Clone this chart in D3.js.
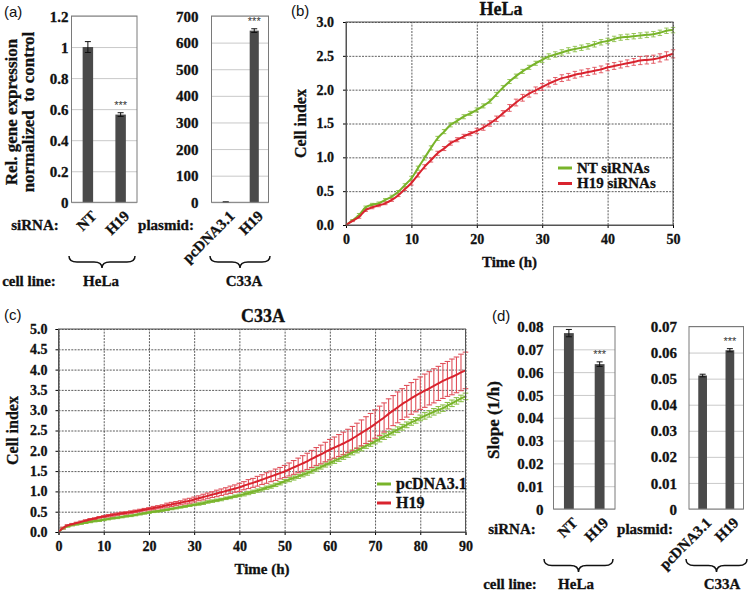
<!DOCTYPE html>
<html><head><meta charset="utf-8">
<script src="https://cdn.jsdelivr.net/npm/d3@7"></script>
<style>
body{margin:0;background:#fff}
svg{display:block}
</style></head><body>
<script>
// ---------------- DATA ----------------
// Panel (a)
const aLeftCats = ["NT", "H19"];
const aLeftVals = [1.0, 0.565];
const aLeftErrs = [0.035, 0.012];
const aLeftStars = ["", "***"];
const aLeftTicks = [0, 0.2, 0.4, 0.6, 0.8, 1, 1.2];
const aRightCats = ["pcDNA3.1", "H19"];
const aRightVals = [1, 645];
const aRightErrs = [0.5, 7];
const aRightStars = ["", "***"];
const aRightTicks = [0, 100, 200, 300, 400, 500, 600, 700];
// Panel (d)
const dLeftCats = ["NT", "H19"];
const dLeftVals = [0.0771, 0.0635];
const dLeftErrs = [0.0016, 0.0010];
const dLeftStars = ["", "***"];
const dLeftTicks = [0, 0.01, 0.02, 0.03, 0.04, 0.05, 0.06, 0.07, 0.08];
const dRightCats = ["pcDNA3.1", "H19"];
const dRightVals = [0.0512, 0.0609];
const dRightErrs = [0.0005, 0.0006];
const dRightStars = ["", "***"];
const dRightTicks = [0, 0.01, 0.02, 0.03, 0.04, 0.05, 0.06, 0.07];
// Panel (b) HeLa
const timeB = [0,1,2,3,4,5,6,7,8,9,10,11,12,13,14,15,16,17,18,19,20,21,22,23,24,25,26,27,28,29,30,31,32,33,34,35,36,37,38,39,40,41,42,43,44,45,46,47,48,49,50];
const ntB = [0.00,0.07,0.15,0.26,0.30,0.32,0.37,0.42,0.49,0.59,0.69,0.84,0.99,1.14,1.28,1.38,1.48,1.54,1.60,1.65,1.70,1.76,1.83,1.93,2.03,2.12,2.20,2.27,2.33,2.39,2.44,2.49,2.52,2.55,2.58,2.60,2.62,2.64,2.67,2.70,2.72,2.75,2.77,2.78,2.79,2.80,2.81,2.82,2.84,2.87,2.88];
const ntBErr = [0,0.01,0.02,0.02,0.02,0.02,0.02,0.02,0.02,0.02,0.03,0.03,0.03,0.03,0.03,0.03,0.03,0.03,0.03,0.03,0.03,0.03,0.03,0.03,0.03,0.03,0.03,0.03,0.03,0.03,0.04,0.04,0.04,0.04,0.04,0.04,0.04,0.04,0.04,0.04,0.04,0.04,0.04,0.04,0.04,0.04,0.04,0.04,0.04,0.04,0.04];
const h19B = [0.00,0.06,0.12,0.22,0.26,0.29,0.32,0.37,0.44,0.53,0.62,0.74,0.86,0.96,1.06,1.13,1.21,1.26,1.31,1.35,1.39,1.44,1.50,1.57,1.65,1.73,1.81,1.88,1.94,1.99,2.04,2.09,2.13,2.17,2.19,2.22,2.24,2.26,2.28,2.30,2.33,2.35,2.37,2.39,2.41,2.43,2.44,2.45,2.47,2.50,2.53];
const h19BErr = [0,0.01,0.02,0.02,0.02,0.02,0.02,0.02,0.02,0.02,0.03,0.03,0.03,0.03,0.03,0.03,0.03,0.03,0.03,0.03,0.04,0.04,0.04,0.04,0.04,0.05,0.05,0.05,0.05,0.05,0.05,0.05,0.05,0.05,0.05,0.05,0.05,0.05,0.05,0.05,0.05,0.05,0.05,0.05,0.05,0.06,0.06,0.06,0.06,0.06,0.06];
const seriesBNames = ["NT siRNAs", "H19 siRNAs"];
const xTicksB = [0,10,20,30,40,50];
const yTicksB = [0,0.5,1.0,1.5,2.0,2.5,3.0];
// Panel (c) C33A
const timeC = [0,1,2,3,4,5,6,7,8,9,10,11,12,13,14,15,16,17,18,19,20,21,22,23,24,25,26,27,28,29,30,31,32,33,34,35,36,37,38,39,40,41,42,43,44,45,46,47,48,49,50,51,52,53,54,55,56,57,58,59,60,61,62,63,64,65,66,67,68,69,70,71,72,73,74,75,76,77,78,79,80,81,82,83,84,85,86,87,88,89,90];
const pcC = [0,0.09,0.14,0.17,0.19,0.21,0.23,0.25,0.27,0.28,0.30,
  0.32,0.34,0.35,0.37,0.39,0.40,0.42,0.44,0.46,0.48,
  0.50,0.51,0.53,0.55,0.57,0.59,0.61,0.63,0.65,0.67,
  0.69,0.71,0.74,0.76,0.78,0.80,0.83,0.85,0.88,0.90,
  0.93,0.96,0.99,1.02,1.05,1.09,1.12,1.16,1.20,1.25,
  1.29,1.33,1.37,1.41,1.45,1.50,1.55,1.60,1.65,1.70,
  1.75,1.80,1.85,1.90,1.96,2.01,2.06,2.12,2.17,2.23,
  2.29,2.35,2.40,2.46,2.52,2.58,2.64,2.70,2.75,2.81,
  2.86,2.91,2.96,3.01,3.05,3.11,3.17,3.23,3.29,3.34];
const pcCErr = [0,0.02,0.02,0.02,0.02,0.02,0.02,0.02,0.02,0.02,0.02,
  0.02,0.02,0.02,0.02,0.02,0.02,0.02,0.02,0.02,0.02,
  0.02,0.02,0.02,0.02,0.02,0.02,0.02,0.02,0.02,0.02,
  0.03,0.03,0.03,0.03,0.03,0.03,0.03,0.03,0.03,0.03,
  0.04,0.04,0.04,0.04,0.04,0.04,0.04,0.04,0.04,0.04,
  0.05,0.05,0.05,0.05,0.05,0.05,0.05,0.05,0.05,0.05,
  0.06,0.06,0.06,0.06,0.06,0.06,0.06,0.06,0.06,0.06,
  0.07,0.07,0.07,0.07,0.07,0.07,0.07,0.07,0.07,0.07,
  0.08,0.08,0.08,0.08,0.08,0.08,0.08,0.08,0.08,0.08];
const h19C = [0,0.10,0.16,0.19,0.22,0.25,0.28,0.31,0.33,0.36,0.38,
  0.40,0.42,0.44,0.46,0.47,0.49,0.51,0.53,0.55,0.57,
  0.59,0.61,0.63,0.66,0.68,0.70,0.72,0.75,0.77,0.80,
  0.83,0.86,0.89,0.92,0.95,0.98,1.01,1.04,1.07,1.10,
  1.14,1.18,1.21,1.25,1.29,1.33,1.37,1.41,1.45,1.49,
  1.54,1.59,1.64,1.69,1.74,1.80,1.86,1.91,1.97,2.03,
  2.08,2.13,2.18,2.24,2.30,2.37,2.44,2.51,2.58,2.66,
  2.74,2.82,2.91,2.99,3.07,3.15,3.22,3.29,3.36,3.42,
  3.48,3.54,3.60,3.66,3.72,3.77,3.82,3.87,3.93,3.98];
const h19CErr = [0,0.02,0.02,0.02,0.02,0.02,0.02,0.02,0.02,0.02,0.02,
  0.03,0.03,0.03,0.03,0.03,0.03,0.03,0.03,0.03,0.03,
  0.04,0.04,0.04,0.05,0.05,0.05,0.05,0.06,0.06,0.06,
  0.06,0.07,0.07,0.07,0.08,0.08,0.08,0.09,0.09,0.10,
  0.10,0.11,0.11,0.12,0.12,0.13,0.13,0.14,0.14,0.15,
  0.16,0.17,0.18,0.19,0.20,0.21,0.22,0.23,0.24,0.25,
  0.26,0.27,0.28,0.29,0.30,0.31,0.32,0.33,0.34,0.35,
  0.36,0.36,0.37,0.37,0.38,0.38,0.39,0.39,0.40,0.40,
  0.41,0.41,0.42,0.42,0.43,0.43,0.44,0.44,0.45,0.45];
const seriesCNames = ["pcDNA3.1", "H19"];
const xTicksC = [0,10,20,30,40,50,60,70,80,90];
const yTicksC = [0,0.5,1.0,1.5,2.0,2.5,3.0,3.5,4.0,4.5,5.0];

// ---------------- STYLE ----------------
const SERIF = '"Liberation Serif","Times New Roman",serif';
const SANS = '"Liberation Sans",Arial,sans-serif';
const GREEN = "#78b42a", GREEN_ERR = "#8cc04a";
const RED = "#d9232e", RED_ERR = "#e0505a";
const BAR = "#4a4a4a";

const svg = d3.select("body").append("svg").attr("width", 755).attr("height", 592);

function serif(sel, size) {
  return sel.style("font-family", SERIF).style("font-weight", "bold").style("font-size", size + "px")
    .style("fill", "#111").style("stroke", "#111").style("stroke-width", "0.3px");
}

// ---------------- BAR PANELS ----------------
function barPanel(o) {
  const g = svg.append("g");
  const x = d3.scaleBand().domain(o.cats).range([o.x0, o.x1]).paddingInner(0.68).paddingOuter(0.34);
  const y = d3.scaleLinear().domain([0, o.ticks[o.ticks.length - 1]]).range([o.y1, o.y0]);
  g.append("g").attr("transform", `translate(${o.x0},0)`)
    .call(d3.axisLeft(y).tickValues(o.ticks).tickSize(-(o.x1 - o.x0)).tickFormat(""))
    .call(s => s.select(".domain").remove())
    .selectAll("line").attr("stroke", "#c9c9c9");
  const ax = g.append("g").attr("transform", `translate(${o.x0 - o.lpad},0)`)
    .call(d3.axisLeft(y).tickValues(o.ticks).tickSize(0).tickPadding(0).tickFormat(o.fmt));
  ax.select(".domain").remove();
  serif(ax.selectAll("text"), o.fs).attr("dy", "0.34em");
  const idx = d3.range(o.cats.length);
  g.selectAll("rect.bar").data(idx).join("rect").attr("class", "bar")
    .attr("x", i => x(o.cats[i])).attr("width", x.bandwidth())
    .attr("y", i => y(o.vals[i])).attr("height", i => o.y1 - y(o.vals[i]))
    .attr("fill", BAR);
  idx.forEach(i => {
    const cx = x(o.cats[i]) + x.bandwidth() / 2;
    const top = y(o.vals[i] + o.errs[i]), bot = y(o.vals[i] - o.errs[i]);
    g.append("line").attr("x1", cx).attr("x2", cx).attr("y1", top).attr("y2", bot).attr("stroke", "#111").attr("stroke-width", 1);
    [top, bot].forEach(yy => g.append("line").attr("x1", cx - 3).attr("x2", cx + 3).attr("y1", yy).attr("y2", yy).attr("stroke", "#111").attr("stroke-width", 1));
    if (o.stars[i]) g.append("text").attr("x", cx).attr("y", top - 4).attr("text-anchor", "middle")
      .style("font-family", SANS).style("font-weight", "normal")
      .style("font-size", "11px").style("fill", "#333").text(o.stars[i]);
  });
  g.append("rect").attr("x", o.x0).attr("y", o.y0).attr("width", o.x1 - o.x0).attr("height", o.y1 - o.y0)
    .attr("fill", "none").attr("stroke", "#7a7a7a").attr("stroke-width", 1);
  o.cats.forEach(c => {
    const cx = x(c) + x.bandwidth() / 2 + 6;
    serif(g.append("text").attr("transform", `translate(${cx},${o.y1 + 11}) rotate(-45)`)
      .attr("text-anchor", "end").attr("dy", "0.35em"), 15).text(c);
  });
}
const fmtShort = d => (d === 0 ? "0" : String(+d.toFixed(2)));

barPanel({x0: 71.5, x1: 137, y0: 16, y1: 202.3, cats: aLeftCats, vals: aLeftVals, errs: aLeftErrs, stars: aLeftStars, ticks: aLeftTicks, fmt: fmtShort, lpad: 3, fs: 15});
barPanel({x0: 211.5, x1: 268.5, y0: 16, y1: 202.3, cats: aRightCats, vals: aRightVals, errs: aRightErrs, stars: aRightStars, ticks: aRightTicks, fmt: d => String(d), lpad: 13, fs: 15});
barPanel({x0: 553.5, x1: 615, y0: 326.5, y1: 509, cats: dLeftCats, vals: dLeftVals, errs: dLeftErrs, stars: dLeftStars, ticks: dLeftTicks, fmt: fmtShort, lpad: 10, fs: 15});
barPanel({x0: 689, x1: 743.5, y0: 326.5, y1: 509, cats: dRightCats, vals: dRightVals, errs: dRightErrs, stars: dRightStars, ticks: dRightTicks, fmt: fmtShort, lpad: 12, fs: 15});

// ---------------- LINE PANELS ----------------
function linePanel(o) {
  const g = svg.append("g");
  const x = d3.scaleLinear().domain([0, o.xTicks[o.xTicks.length - 1]]).range([o.x0, o.x1]);
  const y = d3.scaleLinear().domain([0, o.yTicks[o.yTicks.length - 1]]).range([o.y1, o.y0]);
  g.append("g").attr("transform", `translate(0,${o.y1})`)
    .call(d3.axisBottom(x).tickValues(o.xTicks).tickSize(-(o.y1 - o.y0)).tickFormat(""))
    .call(s => s.select(".domain").remove())
    .selectAll("line").attr("stroke", "#333").attr("stroke-dasharray", "2,1.2").attr("stroke-width", 0.8);
  g.append("g").attr("transform", `translate(${o.x0},0)`)
    .call(d3.axisLeft(y).tickValues(o.yTicks).tickSize(-(o.x1 - o.x0)).tickFormat(""))
    .call(s => s.select(".domain").remove())
    .selectAll("line").attr("stroke", "#333").attr("stroke-dasharray", "2,1.2").attr("stroke-width", 0.8);
  const ay = g.append("g").attr("transform", `translate(${o.x0},0)`)
    .call(d3.axisLeft(y).tickValues(o.yTicks).tickSize(3).tickPadding(o.ypad).tickFormat(d3.format(".1f")));
  serif(ay.selectAll("text"), 14);
  const axx = g.append("g").attr("transform", `translate(0,${o.y1})`)
    .call(d3.axisBottom(x).tickValues(o.xTicks).tickSize(3).tickPadding(6).tickFormat(d3.format("d")));
  serif(axx.selectAll("text"), 14);
  g.selectAll(".domain").attr("stroke", "#555");
  o.series.forEach(s => {
    const eg = g.append("g").attr("stroke", s.errColor).attr("stroke-width", o.errW);
    o.time.forEach((t, i) => {
      if (!s.errs[i]) return;
      const cx = x(t), top = y(s.vals[i] + s.errs[i]), bot = y(s.vals[i] - s.errs[i]);
      eg.append("line").attr("x1", cx).attr("x2", cx).attr("y1", top).attr("y2", bot);
      eg.append("line").attr("x1", cx - o.capW).attr("x2", cx + o.capW).attr("y1", top).attr("y2", top);
      eg.append("line").attr("x1", cx - o.capW).attr("x2", cx + o.capW).attr("y1", bot).attr("y2", bot);
    });
  });
  o.series.forEach(s => {
    g.append("path").datum(o.time.map((t, i) => [t, s.vals[i]]))
      .attr("d", d3.line().curve(d3.curveMonotoneX).x(d => x(d[0])).y(d => y(d[1])))
      .attr("fill", "none").attr("stroke", s.color).attr("stroke-width", 2);
  });
  g.append("rect").attr("x", o.x0).attr("y", o.y0).attr("width", o.x1 - o.x0).attr("height", o.y1 - o.y0)
    .attr("fill", "none").attr("stroke", "#555").attr("stroke-width", 1);
  serif(g.append("text").attr("x", o.titleX).attr("y", o.y0 - 7).attr("text-anchor", "middle"), 18).text(o.title);
  serif(g.append("text").attr("x", (o.x0 + o.x1) / 2).attr("y", o.y1 + 42).attr("text-anchor", "middle"), 15).text("Time (h)");
  serif(g.append("text").attr("transform", `translate(${o.yLabX},${(o.y0 + o.y1) / 2}) rotate(-90)`)
    .attr("text-anchor", "middle"), 16).text("Cell index");
  o.series.forEach((s, i) => {
    const ly = o.legY + i * o.legGap;
    g.append("line").attr("x1", o.legX).attr("x2", o.legX + 14).attr("y1", ly).attr("y2", ly)
      .attr("stroke", s.color).attr("stroke-width", 3);
    serif(g.append("text").attr("x", o.legX + 19).attr("y", ly).attr("dy", "0.33em"), o.legFs).text(s.name);
  });
}

linePanel({x0: 346, x1: 673, y0: 22, y1: 225, xTicks: xTicksB, yTicks: yTicksB, time: timeB, ypad: 9, errW: 0.9, capW: 2.2,
  series: [{name: seriesBNames[0], vals: ntB, errs: ntBErr, color: GREEN, errColor: GREEN_ERR},
           {name: seriesBNames[1], vals: h19B, errs: h19BErr, color: RED, errColor: RED_ERR}],
  title: "HeLa", titleX: 501, yLabX: 306, legX: 558, legY: 168, legGap: 15.5, legFs: 15});
linePanel({x0: 58.5, x1: 465.5, y0: 329, y1: 532, xTicks: xTicksC, yTicks: yTicksC, time: timeC, ypad: 8, errW: 1.1, capW: 2.8,
  series: [{name: seriesCNames[0], vals: pcC, errs: pcCErr, color: GREEN, errColor: GREEN_ERR},
           {name: seriesCNames[1], vals: h19C, errs: h19CErr, color: RED, errColor: RED_ERR}],
  title: "C33A", titleX: 263, yLabX: 18, legX: 377, legY: 484, legGap: 19, legFs: 16});

// ---------------- EXTRA TEXT ----------------
function txt(x, y, s, size, anchor) {
  return serif(svg.append("text").attr("x", x).attr("y", y).attr("text-anchor", anchor || "start").attr("dy", "0.35em"), size).text(s);
}
function plab(x, y, s) {
  svg.append("text").attr("x", x).attr("y", y).attr("dy", "0.35em")
    .style("font-family", SANS).style("font-weight", "normal")
    .style("font-size", "15px").style("fill", "#111").text(s);
}
plab(4, 12, "(a)");
plab(291, 11, "(b)");
plab(4, 315, "(c)");
plab(492, 316, "(d)");
serif(svg.append("text").attr("transform", "translate(11,112) rotate(-90)").attr("text-anchor", "middle").attr("dy", "0.35em"), 17)
  .text("Rel. gene expression");
serif(svg.append("text").attr("transform", "translate(28,112) rotate(-90)").attr("text-anchor", "middle").attr("dy", "0.35em"), 17)
  .style("white-space", "pre").text("normalized  to control");
serif(svg.append("text").attr("transform", "translate(493,420) rotate(-90)").attr("text-anchor", "middle").attr("dy", "0.35em"), 17)
  .text("Slope (1/h)");
txt(35, 225, "siRNA:", 15, "middle");
txt(166, 225, "plasmid:", 15, "middle");
txt(29, 281, "cell line:", 15, "middle");
txt(101, 281, "HeLa", 15, "middle");
txt(244, 281, "C33A", 15, "middle");
txt(512, 529, "siRNA:", 15, "middle");
txt(645, 529, "plasmid:", 15, "middle");
txt(510, 584, "cell line:", 15, "middle");
txt(576, 584, "HeLa", 15, "middle");
txt(722, 584, "C33A", 15, "middle");
function brace(x0, x1, y0, h) {
  const xm = (x0 + x1) / 2, q = 8, ym = y0 + h / 2;
  const p = `M${x0},${y0} Q${x0},${ym} ${x0 + q},${ym} L${xm - q},${ym} Q${xm},${ym} ${xm},${y0 + h} Q${xm},${ym} ${xm + q},${ym} L${x1 - q},${ym} Q${x1},${ym} ${x1},${y0}`;
  svg.append("path").attr("d", p).attr("fill", "none").attr("stroke", "#111").attr("stroke-width", 1.5);
}
brace(69, 135, 256, 12);
brace(210, 270, 256, 12);
brace(544, 613, 559, 13);
brace(686, 747, 559, 13);
</script>
</body></html>
